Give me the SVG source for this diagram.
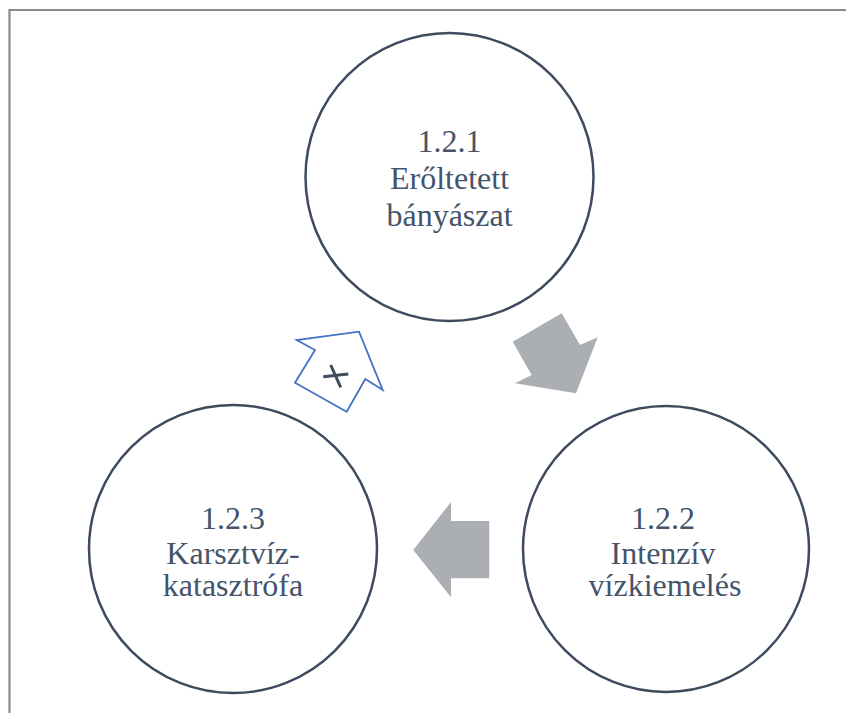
<svg xmlns="http://www.w3.org/2000/svg" width="846" height="713" viewBox="0 0 846 713">
<style>
.node circle{fill:#fff;stroke:#3e4a5d;stroke-width:2.5}
.node text{font-family:"Liberation Serif","Times New Roman",serif;font-size:32px;fill:#44546a;text-anchor:middle}
.garrow{fill:#abaeb3;stroke:none}
</style>
<rect x="0" y="0" width="846" height="713" fill="#fff"/>
<path d="M9.5 713 V10 H846" fill="none" stroke="#8a8a8a" stroke-width="2.2"/>
<g id="connectors">
<polygon class="garrow" points="561.7,313.3 580,345 597.7,337.3 576,393.3 515,383.3 531.7,375 512.7,341.7"/>
<polygon class="garrow" points="489.3,521 451,521 451,502 413.3,550 451,597.3 451,578.3 489.3,578.3"/>
<g id="broken-link">
<polygon points="359,331.7 382.7,390 365.3,379 346.7,411.7 295,382.7 315,350 296.7,340" fill="#fff" stroke="#4472c4" stroke-width="1.8" stroke-linejoin="miter"/>
<line x1="323.3" y1="376.7" x2="348.3" y2="374" stroke="#3e4a5d" stroke-width="3"/>
<line x1="330.7" y1="365" x2="340.7" y2="387.3" stroke="#3e4a5d" stroke-width="3"/>
</g>
</g>
<g id="node-121" class="node">
<circle cx="449.5" cy="177" r="144"/>
<text x="449.5" y="152">1.2.1</text>
<text x="449.5" y="189">Erőltetett</text>
<text x="449.5" y="226">bányászat</text>
</g>
<g id="node-122" class="node">
<circle cx="666" cy="549" r="143"/>
<text x="663" y="529">1.2.2</text>
<text x="663" y="564">Intenzív</text>
<text x="665" y="596">vízkiemelés</text>
</g>
<g id="node-123" class="node">
<circle cx="233" cy="549" r="144"/>
<text x="233" y="529">1.2.3</text>
<text x="233" y="564">Karsztvíz-</text>
<text x="233" y="596">katasztrófa</text>
</g>
</svg>
